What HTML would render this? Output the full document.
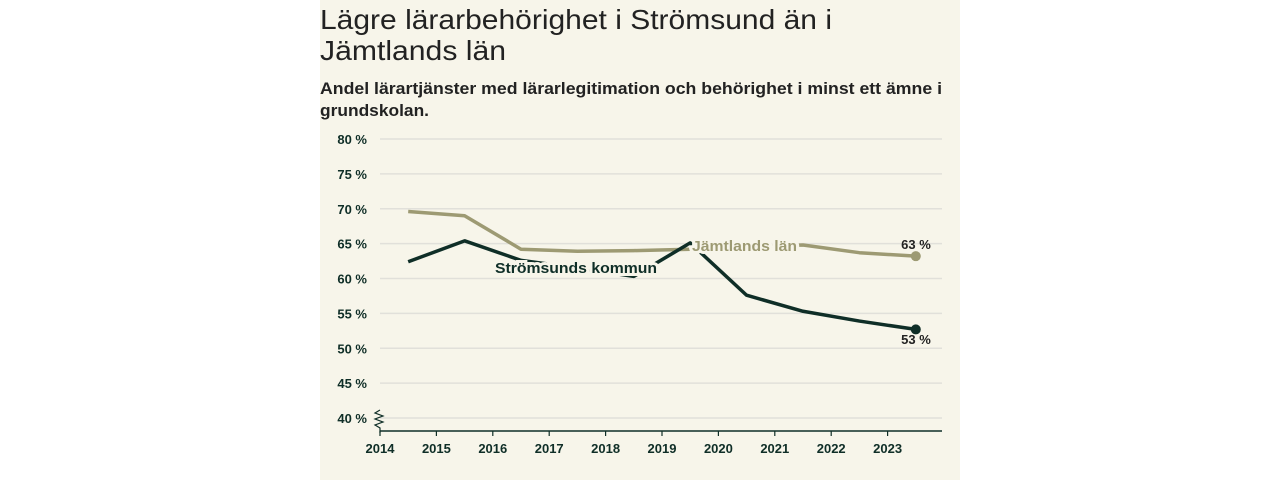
<!DOCTYPE html>
<html><head><meta charset="utf-8"><style>
html,body{margin:0;padding:0;background:#fff;width:1280px;height:480px;overflow:hidden}
svg{display:block;font-family:"Liberation Sans",sans-serif}
</style></head><body>
<svg id="chart" width="1280" height="480">
<rect x="320" y="0" width="640" height="480" fill="#f7f5ea"/>
<text x="320" y="29" font-size="28" fill="#222" textLength="512" lengthAdjust="spacingAndGlyphs">Lägre lärarbehörighet i Strömsund än i</text>
<text x="320" y="60" font-size="28" fill="#222" textLength="186" lengthAdjust="spacingAndGlyphs">Jämtlands län</text>
<text x="320" y="94" font-size="17" font-weight="bold" fill="#222" textLength="622" lengthAdjust="spacingAndGlyphs">Andel lärartjänster med lärarlegitimation och behörighet i minst ett ämne i</text>
<text x="320" y="116" font-size="17" font-weight="bold" fill="#222" textLength="109" lengthAdjust="spacingAndGlyphs">grundskolan.</text>
<g id="grid"></g><g id="axes"></g><g id="series"></g><g id="labels"></g>
</svg>
<script>
const years=[2014,2015,2016,2017,2018,2019,2020,2021,2022,2023];
const yTicks=[40,45,50,55,60,65,70,75,80];
const jamtland=[69.6,69.0,64.2,63.9,64.0,64.2,64.5,64.8,63.7,63.2];
const stromsund=[62.4,65.4,62.6,61.5,60.3,65.1,57.6,55.3,53.9,52.7];
const NS="http://www.w3.org/2000/svg";
const x=v=>380+(v-2014)*56.4;
const y=v=>418-(v-40)*6.975;
function mk(tag,attrs,parent){const e=document.createElementNS(NS,tag);for(const k in attrs)e.setAttribute(k,attrs[k]);document.getElementById(parent).appendChild(e);return e;}
const dark="#0f2e27",tan="#9d9a73";
yTicks.forEach(t=>{
 const l=mk('line',{x1:380,x2:942,y1:y(t),y2:y(t),stroke:'#e1e0da','stroke-width':1.5},'grid');
 
 
 const tx=mk('text',{x:367,y:y(t)+5,'font-size':13,'font-weight':'bold','text-anchor':'end',fill:dark},'axes');
 tx.textContent=t+' %';
 
 
});
const ax=mk('line',{x1:380,x2:942,y1:431,y2:431,stroke:dark,'stroke-width':1.5},'axes');


const br=mk('path',{d:'M380 410 l-5 3 l8 3 l-8 3 l8 3 l-8 3 l5 3 v5',fill:'none',stroke:dark,'stroke-width':1.2},'axes');


years.forEach(yr=>{
 const t=mk('line',{x1:x(yr),x2:x(yr),y1:431,y2:436,stroke:dark,'stroke-width':1.2},'axes');
 
 
 const tx=mk('text',{x:x(yr),y:453,'font-size':13,'font-weight':'bold','text-anchor':'middle',fill:dark},'axes');
 tx.textContent=yr;
 
 
});
function line(vals,color,name){
 const d=vals.map((v,i)=>(i?'L':'M')+x(years[i]+0.5)+' '+y(v)).join(' ');
 const p=mk('path',{d:d,fill:'none',stroke:color,'stroke-width':3.5,'stroke-linejoin':'round'},'series');
 
 
 const n=vals.length-1;
 const c=mk('circle',{cx:x(years[n]+0.5),cy:y(vals[n]),r:5,fill:color},'series');
 
 
}
line(jamtland,tan,'jamtland');
line(stromsund,dark,'stromsund');
function label(txt,lx,ly,color,name,size,anchor,halo,len){
 const a={x:lx,y:ly,'font-size':size,'font-weight':'bold',fill:color,'text-anchor':anchor||'start',stroke:halo?'#f7f5ea':'none','stroke-width':halo?6:0,'paint-order':'stroke'};
 if(len){a.textLength=len;a.lengthAdjust='spacingAndGlyphs';}
 const t=mk('text',a,'labels');
 t.textContent=txt;
 
 
}
label('Strömsunds kommun',495,273,dark,'stromsund-label',15,'start',true,162);
label('Jämtlands län',692,251,tan,'jamtland-label',15,'start',true,105);
label(Math.round(jamtland[9])+' %',916,249,'#222','jamtland-end-value',13,'middle',false);
label(Math.round(stromsund[9])+' %',916,344,'#222','stromsund-end-value',13,'middle',false);
</script>
</body></html>
